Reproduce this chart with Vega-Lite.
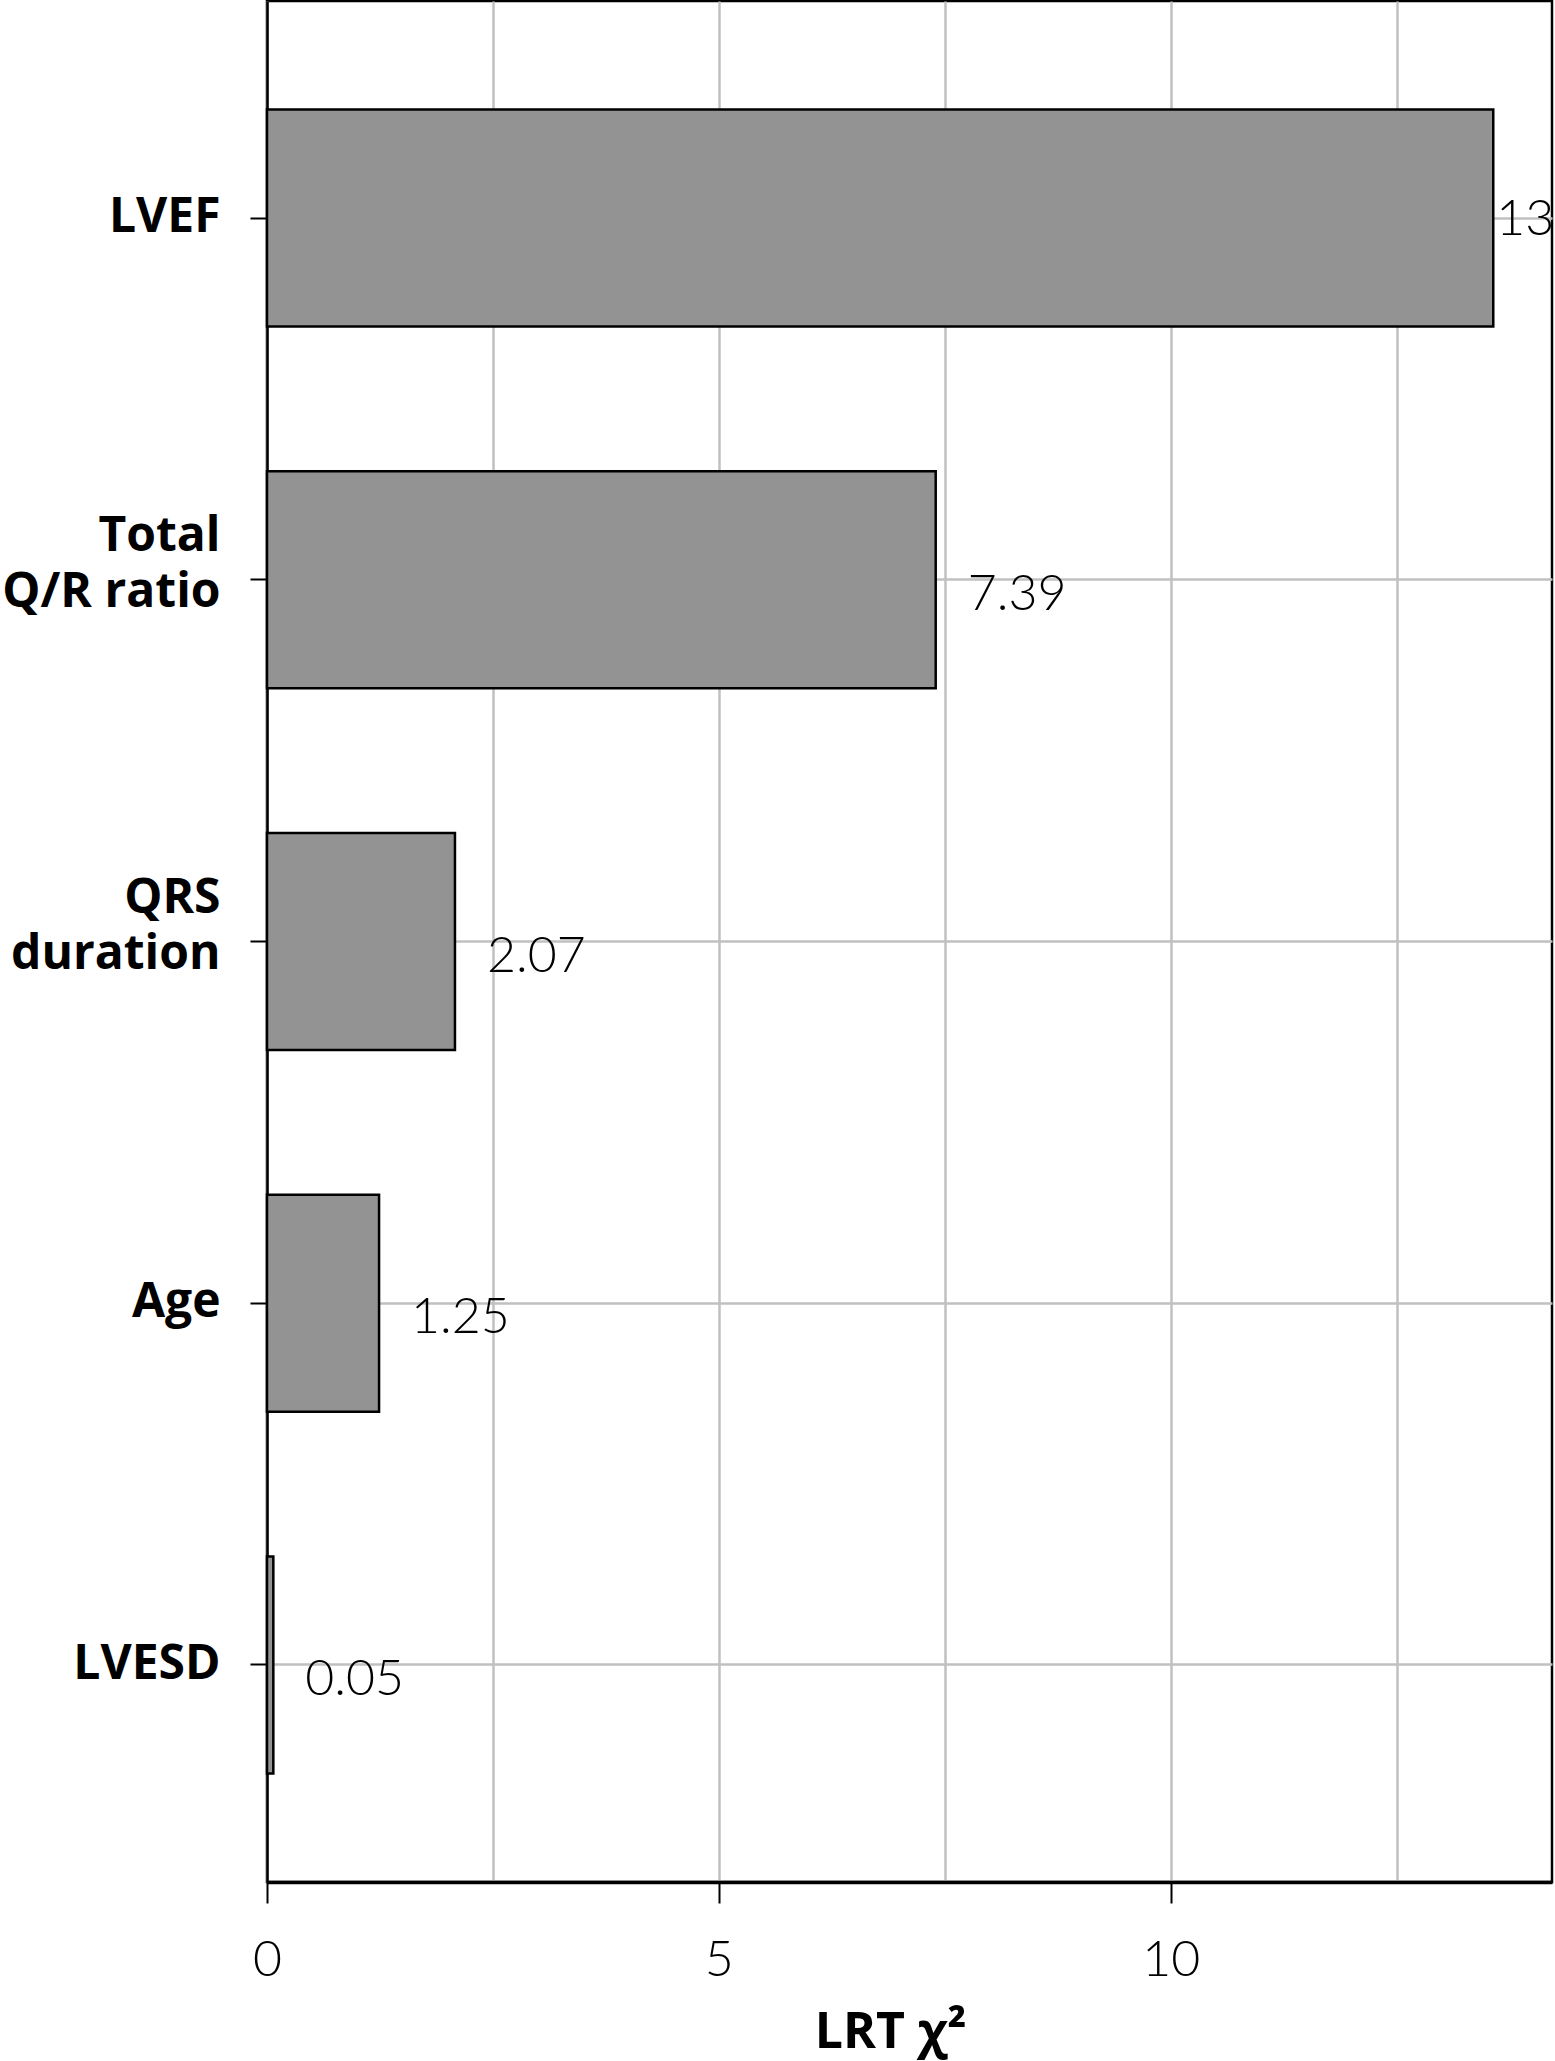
{
  "$schema": "https://vega.github.io/schema/vega-lite/v6.json",
  "description": "LRT chi-square of predictors.",
  "autosize": {"type": "none"},
  "padding": {"left": 267, "top": 1, "right": 3, "bottom": 179},
  "width": 1285,
  "height": 1881,
  "data": {
    "values": [
      {"name": "LVEF", "chi2": 13.57, "label": "13"},
      {"name": "Total|Q/R ratio", "chi2": 7.4, "label": "7.39"},
      {"name": "QRS|duration", "chi2": 2.08, "label": "2.07"},
      {"name": "Age", "chi2": 1.24, "label": "1.25"},
      {"name": "LVESD", "chi2": 0.07, "label": "0.05"}
    ]
  },
  "encoding": {
    "y": {
      "field": "name",
      "type": "nominal",
      "sort": null,
      "scale": {"paddingInner": 0.4, "paddingOuter": 0.3},
      "axis": {
        "title": null,
        "labelExpr": "split(datum.value, '|')",
        "labelFont": "Open Sans",
        "labelFontWeight": "bold",
        "labelFontSize": 48,
        "labelLineHeight": 56,
        "labelLimit": 400,
        "labelColor": "black",
        "labelPadding": 30,
        "labelOffset": {"condition": {"test": "indexof(datum.value, '|') >= 0", "value": -43}, "value": 0},
        "tickSize": 17,
        "tickWidth": 2,
        "tickColor": "black",
        "domainColor": "black",
        "domainWidth": 2.5,
        "grid": true,
        "gridColor": "#c0c0c0",
        "gridWidth": 2.5
      }
    },
    "x": {
      "field": "chi2",
      "type": "quantitative",
      "scale": {"domain": [0, 14.22], "nice": false},
      "axis": {
        "title": "LRT χ²",
        "titleFont": "Open Sans",
        "titleFontWeight": "bold",
        "titleFontSize": 50,
        "titleColor": "black",
        "titlePadding": 22,
        "titleX": 623,
        "values": [0, 2.5, 5, 7.5, 10, 12.5],
        "labelExpr": "datum.value % 5 === 0 ? datum.label : ''",
        "labelFlush": false,
        "labelFont": "Lato",
        "labelFontWeight": 300,
        "labelFontSize": 50,
        "labelColor": "black",
        "labelPadding": 32,
        "tickSize": 21,
        "tickWidth": 2,
        "tickColor": {"condition": {"test": "datum.value % 5 !== 0", "value": "transparent"}, "value": "black"},
        "domainColor": "black",
        "domainWidth": 3.5,
        "grid": true,
        "gridColor": "#c0c0c0",
        "gridWidth": 2.5
      }
    }
  },
  "layer": [
    {
      "mark": {"type": "bar", "fill": "#939393", "stroke": "black", "strokeWidth": 2.5}
    },
    {
      "transform": [{"filter": "datum.name !== 'LVEF'"}],
      "mark": {"type": "text", "align": "left", "baseline": "middle", "dx": 32, "dy": 15, "font": "Lato", "fontWeight": 300, "fontSize": 50, "color": "black"},
      "encoding": {"text": {"field": "label"}}
    },
    {
      "transform": [{"filter": "datum.name === 'LVEF'"}],
      "mark": {"type": "text", "align": "left", "baseline": "middle", "dx": 3, "dy": 2, "font": "Lato", "fontWeight": 300, "fontSize": 50, "color": "black"},
      "encoding": {"text": {"field": "label"}}
    }
  ],
  "config": {
    "view": {"stroke": "black", "strokeWidth": 2.5}
  }
}
